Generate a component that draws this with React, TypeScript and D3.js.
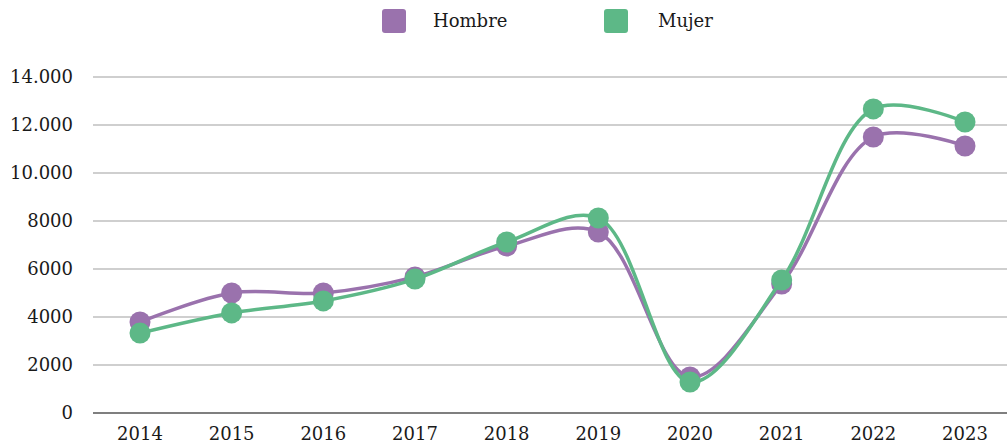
import React from "react";
import * as d3 from "d3";

const years = ["2014","2015","2016","2017","2018","2019","2020","2021","2022","2023"];
const hombre = [3790, 5000, 5000, 5670, 6960, 7540, 1500, 5375, 11500, 11125];
const mujer = [3330, 4170, 4670, 5580, 7125, 8125, 1290, 5540, 12670, 12125];
const yTicks = [0, 2000, 4000, 6000, 8000, 10000, 12000, 14000];
const yTickLabels = ["0", "2000", "4000", "6000", "8000", "10.000", "12.000", "14.000"];
const seriesNames = ["Hombre", "Mujer"];
const colors = ["#9a72ad", "#5db887"];

const W = 1007, H = 444;
const FONT = "'DejaVu Serif', serif";

export default function App() {
  const x = d3.scalePoint<string>().domain(years).range([140, 965]);
  const y = d3.scaleLinear().domain([0, 14000]).range([413, 77]);
  const line = d3
    .line<number>()
    .x((_, i) => x(years[i])!)
    .y((d) => y(d))
    .curve(d3.curveCatmullRom.alpha(0.5));
  const data = [hombre, mujer];
  const legendX = [382, 604];
  const legendTextX = [433, 658];

  return (
    <svg width={W} height={H} style={{ position: "absolute", left: 0, top: 0, background: "#fff" }}>
      {yTicks.map((t, i) => (
        <g key={t}>
          <line
            x1={93}
            x2={W}
            y1={y(t)}
            y2={y(t)}
            stroke={t === 0 ? "#555" : "#cfcfcf"}
            strokeWidth={t === 0 ? 1.5 : 2}
          />
          <text x={73} y={y(t) + 6} textAnchor="end" fontFamily={FONT} fontSize={18} fill="#1a1a1a">
            {yTickLabels[i]}
          </text>
        </g>
      ))}
      {years.map((yr) => (
        <text key={yr} x={x(yr)} y={439.5} textAnchor="middle" fontFamily={FONT} fontSize={18} fill="#1a1a1a">
          {yr}
        </text>
      ))}
      {data.map((s, si) => (
        <g key={si}>
          <path d={line(s)!} fill="none" stroke={colors[si]} strokeWidth={3.5} />
          {s.map((v, i) => (
            <circle key={i} cx={x(years[i])} cy={y(v)} r={10.5} fill={colors[si]} />
          ))}
        </g>
      ))}
      {seriesNames.map((n, i) => (
        <g key={n}>
          <rect x={legendX[i]} y={9} width={24} height={24} rx={3} fill={colors[i]} />
          <text x={legendTextX[i]} y={27} fontFamily={FONT} fontSize={18} fill="#1a1a1a">
            {n}
          </text>
        </g>
      ))}
    </svg>
  );
}
